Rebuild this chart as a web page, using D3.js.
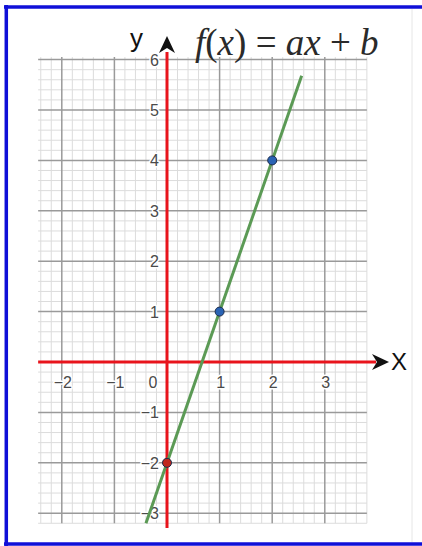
<!DOCTYPE html>
<html>
<head>
<meta charset="utf-8">
<script src="https://d3js.org/d3.v7.min.js"></script>
<style>
  body { margin: 0; background: #fff; }
  svg { display: block; }
</style>
</head>
<body>
<svg id="chart" width="422" height="546"></svg>
<script>
// data
const titleParts = [
  { t: "f", it: true }, { t: "(", it: false }, { t: "x", it: true }, { t: ")", it: false },
  { t: " = ", it: false }, { t: "ax", it: true }, { t: " + ", it: false }, { t: "b", it: true }
];
const xTicks = [-2, -1, 0, 1, 2, 3];
const yTicks = [-3, -2, -1, 1, 2, 3, 4, 5, 6];
const slope = 3, intercept = -2;           // f(x) = 3x - 2
const lineX = [-0.4, 2.56];
const points = [
  { x: 0, y: -2, type: "intercept" },
  { x: 1, y: 1, type: "point" },
  { x: 2, y: 4, type: "point" }
];

const svg = d3.select("#chart");

// grid extent (in data units)
const gx = [-2.45, 3.8], gy = [-3.2, 6.05];

const x = d3.scaleLinear().domain([0, 1]).range([167, 219.6]);
const y = d3.scaleLinear().domain([0, 1]).range([362, 311.6]);

// frame
svg.append("rect").attr("width", 422).attr("height", 546).attr("fill", "#fff");
svg.append("line").attr("x1", 412).attr("x2", 412).attr("y1", 9).attr("y2", 542)
  .attr("stroke", "#e6e6e6").attr("stroke-width", 1);
const frame = svg.append("g").attr("stroke", "#1010d8").attr("stroke-width", 3.5);
frame.append("line").attr("x1", 4).attr("x2", 422).attr("y1", 7).attr("y2", 7);
frame.append("line").attr("x1", 6.3).attr("x2", 6.3).attr("y1", 5).attr("y2", 546);
frame.append("line").attr("x1", 4).attr("x2", 422).attr("y1", 544).attr("y2", 544);

// minor grid
const minor = svg.append("g").attr("stroke", "#dcdcdc").attr("stroke-width", 1);
d3.range(Math.ceil(gx[0] * 5), Math.floor(gx[1] * 5) + 1).forEach(i => {
  if (i % 5 === 0) return;
  minor.append("line").attr("x1", x(i / 5)).attr("x2", x(i / 5))
    .attr("y1", y(gy[1])).attr("y2", y(gy[0]));
});
d3.range(Math.ceil(gy[0] * 5), Math.floor(gy[1] * 5) + 1).forEach(i => {
  if (i % 5 === 0) return;
  minor.append("line").attr("y1", y(i / 5)).attr("y2", y(i / 5))
    .attr("x1", x(gx[0])).attr("x2", x(gx[1]));
});

// major grid
const major = svg.append("g").attr("stroke", "#9a9a9a").attr("stroke-width", 1.5);
xTicks.forEach(v => {
  major.append("line").attr("x1", x(v)).attr("x2", x(v))
    .attr("y1", y(gy[1])).attr("y2", y(gy[0]));
});
yTicks.forEach(v => {
  major.append("line").attr("y1", y(v)).attr("y2", y(v))
    .attr("x1", x(gx[0])).attr("x2", x(gx[1]));
});

// tick labels
const fmt = v => v < 0 ? "\u2212" + Math.abs(v) : String(v);
const tickText = () => svg.append("text")
  .attr("font-family", "Arial, 'Liberation Sans', sans-serif")
  .attr("font-size", 16).attr("fill", "#4a4a4a")
  .attr("stroke", "#fff").attr("stroke-width", 3)
  .attr("paint-order", "stroke").attr("stroke-linejoin", "round");
xTicks.forEach(v => {
  tickText()
    .attr("x", v === 0 ? x(0) - 14 : x(v) + 1)
    .attr("y", y(0) + 26)
    .attr("text-anchor", "middle")
    .text(fmt(v));
});
yTicks.forEach(v => {
  tickText()
    .attr("x", x(0) - 8)
    .attr("y", y(v) + 6)
    .attr("text-anchor", "end")
    .text(fmt(v));
});

// axes (red) with arrows
const axes = svg.append("g").attr("stroke", "#e8141c").attr("stroke-width", 3);
axes.append("line").attr("x1", x(gx[0])).attr("x2", 376).attr("y1", y(0)).attr("y2", y(0));
axes.append("line").attr("x1", x(0)).attr("x2", x(0)).attr("y1", 528).attr("y2", 52);

svg.append("path")
  .attr("d", `M389,${y(0)} L372,${y(0) - 8} L377,${y(0)} L372,${y(0) + 8} Z`)
  .attr("fill", "#111");
svg.append("path")
  .attr("d", `M${x(0)},36 L${x(0) - 8},53 L${x(0)},48 L${x(0) + 8},53 Z`)
  .attr("fill", "#111");

svg.append("text").attr("x", 391).attr("y", y(0) + 8)
  .attr("font-family", "Arial, 'Liberation Sans', sans-serif").attr("font-size", 24)
  .attr("fill", "#111").text("X");
svg.append("text").attr("x", 130).attr("y", 47)
  .attr("font-family", "Arial, 'Liberation Sans', sans-serif").attr("font-size", 26)
  .attr("fill", "#111").text("y");

// title
const title = svg.append("text").attr("x", 195).attr("y", 55)
  .attr("font-family", "'Liberation Serif', 'DejaVu Serif', serif")
  .attr("font-size", 37)
  .attr("fill", "#2a2a2a")
  .attr("xml:space", "preserve");
titleParts.forEach(p => {
  title.append("tspan")
    .attr("font-style", p.it ? "italic" : "normal")
    .text(p.t);
});

// function line
const f = v => slope * v + intercept;
svg.append("path")
  .datum(lineX)
  .attr("d", d3.line().x(d => x(d)).y(d => y(f(d))))
  .attr("stroke", "#5b9a55").attr("stroke-width", 3).attr("fill", "none");

// points
svg.selectAll("circle.pt").data(points).join("circle")
  .attr("class", "pt")
  .attr("cx", d => x(d.x)).attr("cy", d => y(d.y))
  .attr("r", 4.5)
  .attr("fill", d => d.type === "intercept" ? "#c0281f" : "#2a63b4")
  .attr("stroke", "#1a2a4a").attr("stroke-width", 1);
</script>
</body>
</html>
